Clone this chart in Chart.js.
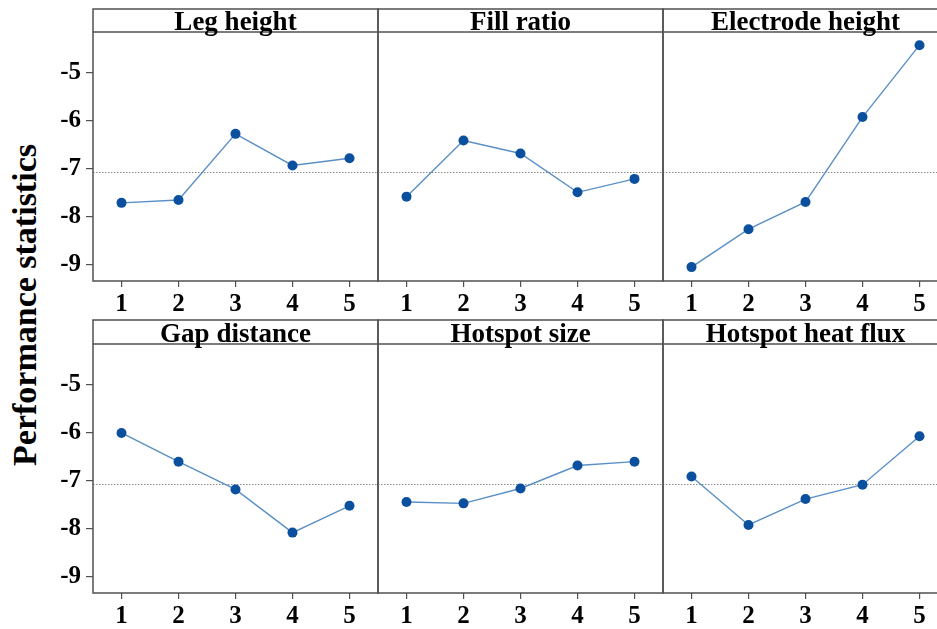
<!DOCTYPE html>
<html>
<head>
<meta charset="utf-8">
<script src="https://cdn.jsdelivr.net/npm/chart.js@4.4.1/dist/chart.umd.min.js"></script>
<style>
  html, body { margin: 0; padding: 0; background: #fff; width: 937px; height: 629px; overflow: hidden; }
  #wrap { position: relative; width: 937px; height: 629px; overflow: hidden; }
  canvas { position: absolute; }
  #ylab { position: absolute; left: 25px; top: 305px; transform: translate(-50%, -50%) rotate(-90deg);
          white-space: nowrap; font: bold 34px "Liberation Serif", "Times New Roman", serif; color: #000; line-height: 1; }
</style>
</head>
<body>
<div id="wrap">
  <div id="ylab">Performance statistics</div>
</div>
<script>
// ---- data ----
const categories = [1, 2, 3, 4, 5];
const yTickValues = [-9, -8, -7, -6, -5];
const panelTitles = ['Leg height', 'Fill ratio', 'Electrode height', 'Gap distance', 'Hotspot size', 'Hotspot heat flux'];
const legHeight       = [-7.71, -7.65, -6.27, -6.93, -6.78];
const fillRatio       = [-7.58, -6.41, -6.68, -7.49, -7.21];
const electrodeHeight = [-9.05, -8.26, -7.69, -5.92, -4.42];
const gapDistance     = [-6.00, -6.60, -7.18, -8.08, -7.52];
const hotspotSize     = [-7.44, -7.47, -7.16, -6.68, -6.60];
const hotspotHeatFlux = [-6.91, -7.92, -7.38, -7.08, -6.07];
const overallMean = -7.07;
const seriesList = [legHeight, fillRatio, electrodeHeight, gapDistance, hotspotSize, hotspotHeatFlux];

// ---- layout ----
const colLeft = [93, 378, 663];
const rowCanvasTop = [0, 311];
const headerH = [23, 24];
const plotH = 249;
const yAxisW = 93;
const xAxisH = 40;
const FONT = '"Liberation Serif", "Times New Roman", serif';

const panelFrame = {
  id: 'panelFrame',
  beforeDatasetsDraw(chart, args, opts) {
    const { ctx, chartArea: { left, right } } = chart;
    const y = Math.round(chart.scales.y.getPixelForValue(overallMean)) + 0.5;
    ctx.save();
    ctx.strokeStyle = '#8a8a8a';
    ctx.lineWidth = 1;
    ctx.setLineDash([1.5, 1.5]);
    ctx.beginPath();
    ctx.moveTo(left, y);
    ctx.lineTo(right, y);
    ctx.stroke();
    ctx.restore();
  },
  afterDraw(chart, args, opts) {
    const { ctx, chartArea: { left, right, top, bottom } } = chart;
    const hTop = top - opts.headerH;
    ctx.save();
    ctx.strokeStyle = '#505050';
    ctx.lineWidth = 1.5;
    ctx.strokeRect(left, hTop, right - left, bottom - hTop);
    ctx.beginPath();
    ctx.moveTo(left, top);
    ctx.lineTo(right, top);
    ctx.stroke();
    ctx.fillStyle = '#000';
    ctx.font = 'bold 27px ' + FONT;
    ctx.textAlign = 'center';
    ctx.textBaseline = 'alphabetic';
    ctx.fillText(opts.title, (left + right) / 2, top - 2);
    ctx.restore();
  }
};

const wrap = document.getElementById('wrap');
seriesList.forEach((vals, i) => {
  const row = Math.floor(i / 3), col = i % 3;
  const cv = document.createElement('canvas');
  const w = yAxisW + 285 + 2;
  const h = 9 + headerH[row] + plotH + xAxisH;
  cv.width = w; cv.height = h;
  cv.style.width = w + 'px'; cv.style.height = h + 'px';
  cv.style.left = (colLeft[col] - yAxisW) + 'px';
  cv.style.top = rowCanvasTop[row] + 'px';
  wrap.appendChild(cv);
  const showY = col === 0;
  new Chart(cv, {
    type: 'line',
    data: {
      datasets: [{
        data: categories.map((c, k) => ({ x: c, y: vals[k] })),
        borderColor: '#5a8fc6',
        borderWidth: 1.4,
        pointRadius: 5,
        pointBackgroundColor: '#0b4f9f',
        pointBorderColor: '#0b4f9f',
        pointBorderWidth: 0,
        tension: 0,
        fill: false
      }]
    },
    options: {
      responsive: false,
      devicePixelRatio: 1,
      animation: false,
      layout: { autoPadding: false, padding: { top: 9 + headerH[row], left: 0, right: 2, bottom: 0 } },
      plugins: {
        legend: { display: false },
        tooltip: { enabled: false },
        panelFrame: { title: panelTitles[i], headerH: headerH[row] }
      },
      scales: {
        x: {
          type: 'linear',
          min: 0.5, max: 5.5,
          afterBuildTicks: s => { s.ticks = categories.map(v => ({ value: v })); },
          afterFit: s => { s.height = xAxisH; },
          grid: { display: true, drawOnChartArea: false, drawTicks: true, tickLength: 6, color: '#505050', lineWidth: 1.2 },
          border: { display: false },
          ticks: { color: '#000', font: { family: FONT, size: 25, weight: 'bold' }, padding: 3, maxRotation: 0 }
        },
        y: {
          type: 'linear',
          min: -9.34, max: -4.145,
          afterBuildTicks: s => { s.ticks = yTickValues.map(v => ({ value: v })); },
          afterFit: s => { s.width = yAxisW; },
          grid: { display: showY, drawOnChartArea: false, drawTicks: true, tickLength: 7, color: '#505050', lineWidth: 1.2 },
          border: { display: false },
          ticks: { display: showY, color: '#000', font: { family: FONT, size: 25, weight: 'bold' }, padding: 5 }
        }
      }
    },
    plugins: [panelFrame]
  });
});
</script>
</body>
</html>
